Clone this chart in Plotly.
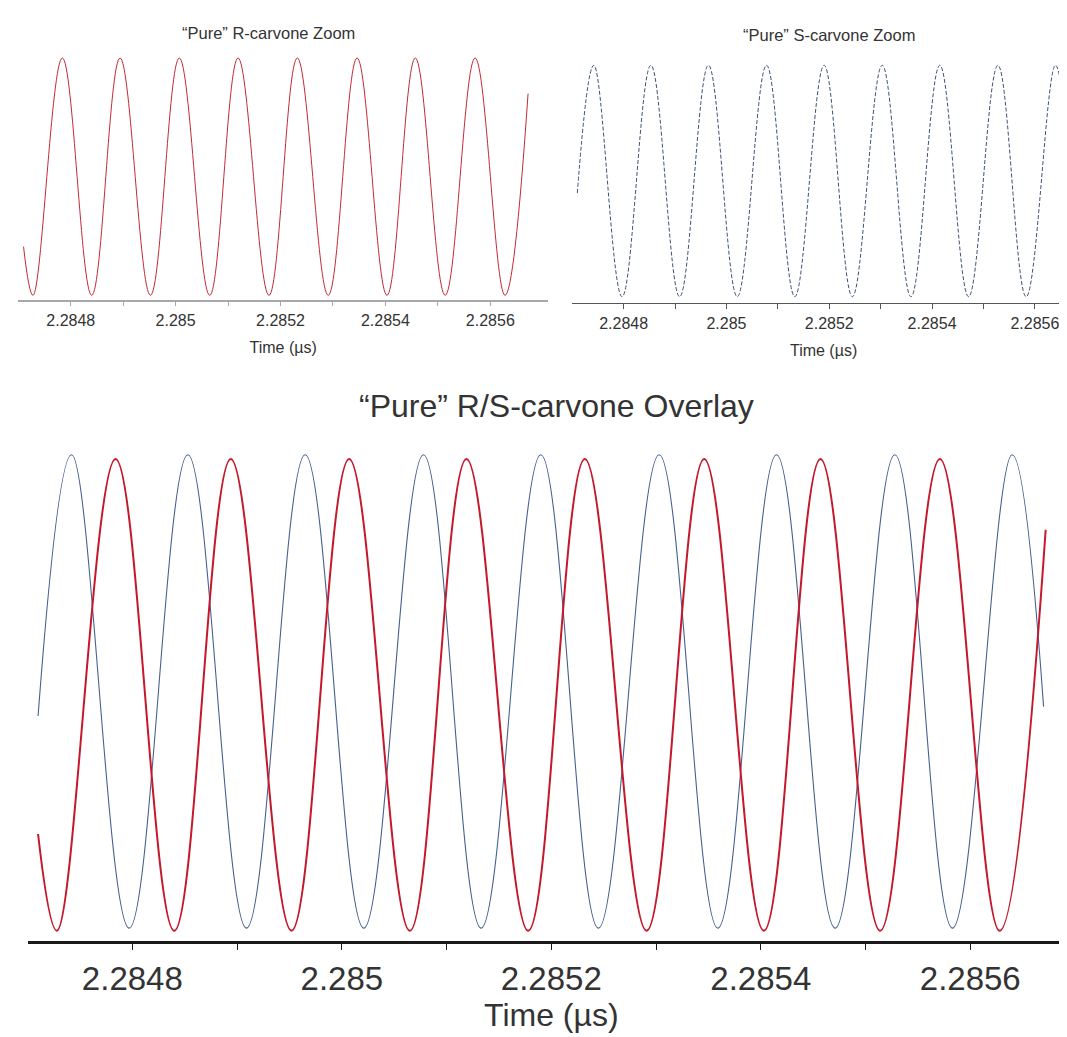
import plotly.graph_objects as go

# ---- data (time in µs, signal in arbitrary units) ----
r_start_t, r_start_v = 2.284710, -0.59
r_trough_t = [2.284728, 2.284840, 2.284952, 2.285065, 2.285178, 2.285291, 2.285403, 2.285514, 2.285628]
r_trough_v = [-1.0, -1.0, -1.0, -1.0, -1.0, -1.0, -1.0, -1.0, -1.0]
r_peak_t = [2.284784, 2.284894, 2.285007, 2.285119, 2.285232, 2.285346, 2.285457, 2.285571]
r_peak_v = [1.0, 1.0, 1.0, 1.0, 1.0, 1.0, 1.0, 1.0]
r_end_t, r_end_v = 2.285672, 0.70

s_start_t, s_start_v = 2.284710, -0.09
s_peak_t = [2.284742, 2.284853, 2.284965, 2.285078, 2.285190, 2.285303, 2.285415, 2.285528, 2.285640]
s_peak_v = [1.018, 1.018, 1.018, 1.018, 1.018, 1.018, 1.018, 1.018, 1.018]
s_trough_t = [2.284797, 2.284909, 2.285021, 2.285133, 2.285245, 2.285359, 2.285471, 2.285583]
s_trough_v = [-0.989, -0.989, -0.989, -0.989, -0.989, -0.989, -0.989, -0.989]
s_end_t, s_end_v = 2.285670, -0.05

tick_vals = [2.2848, 2.2850, 2.2852, 2.2854, 2.2856]
tick_text = ["2.2848", "2.285", "2.2852", "2.2854", "2.2856"]
minor_vals = [2.2849, 2.2851, 2.2853, 2.2855]

# ---- build the extrema sequences in time order ----
def merge(st, sv, a_t, a_v, b_t, b_v, et, ev):
    pts = [(st, sv)] + list(zip(a_t, a_v)) + list(zip(b_t, b_v)) + [(et, ev)]
    pts.sort(key=lambda p: p[0])
    return [p[0] for p in pts], [p[1] for p in pts]

r_t, r_v = merge(r_start_t, r_start_v, r_trough_t, r_trough_v, r_peak_t, r_peak_v, r_end_t, r_end_v)
s_t, s_v = merge(s_start_t, s_start_v, s_peak_t, s_peak_v, s_trough_t, s_trough_v, s_end_t, s_end_v)

RED = "#c4182c"
BLUE = "#45618f"
FONT = "Liberation Sans, Arial, sans-serif"
SM = 1.09

fig = go.Figure()
fig.add_trace(go.Scatter(x=r_t, y=r_v, mode="lines", xaxis="x", yaxis="y",
                         line=dict(color="#c42a36", width=1, shape="spline", smoothing=SM)))
fig.add_trace(go.Scatter(x=s_t, y=s_v, mode="lines", xaxis="x2", yaxis="y2",
                         line=dict(color="#3e5275", width=1, shape="spline", smoothing=SM, dash="4px,2px")))
fig.add_trace(go.Scatter(x=s_t, y=s_v, mode="lines", xaxis="x3", yaxis="y3",
                         line=dict(color=BLUE, width=1.1, shape="spline", smoothing=SM)))
fig.add_trace(go.Scatter(x=r_t, y=r_v, mode="lines", xaxis="x3", yaxis="y3",
                         line=dict(color=RED, width=2, shape="spline", smoothing=SM)))

W, H = 1067, 1037

def xax(dom, rng, lc, lw, fs, tfs, tl, anchor, standoff):
    return dict(domain=dom, range=rng, anchor=anchor, showgrid=False, zeroline=False,
                showline=True, linecolor=lc, linewidth=lw,
                tickmode="array", tickvals=tick_vals, ticktext=tick_text,
                ticks="outside", ticklen=tl, tickwidth=1, tickcolor=lc,
                minor=dict(tickmode="array", tickvals=minor_vals, ticks="outside",
                           ticklen=tl, tickwidth=1, tickcolor=lc),
                tickfont=dict(family=FONT, size=fs, color="#333333"),
                title=dict(text="Time (µs)", font=dict(family=FONT, size=tfs, color="#333333"),
                           standoff=standoff))

def yax(dom, rng, anchor):
    return dict(domain=dom, range=rng, anchor=anchor, visible=False, fixedrange=True)

fig.update_layout(
    width=W, height=H, margin=dict(l=0, r=0, t=0, b=0),
    paper_bgcolor="white", plot_bgcolor="white", showlegend=False,
    xaxis=xax([10.3 / W, 540 / W], [2.2847, 2.28571], "#a8a8a8", 1.5, 16, 16, 5, "y", 14),
    yaxis=yax([1 - 291.7 / H, 1 - 40 / H], [-1.0371, 1.0843], "x"),
    xaxis2=xax([564.2 / W, 1.0], [2.2847, 2.285678], "#555555", 1, 16, 16, 5, "y2", 14),
    yaxis2=yax([1 - 295.3 / H, 1 - 40 / H], [-1.0462, 1.168], "x2"),
    xaxis3=xax([19.6 / W, 1.0], [2.2847, 2.2857], "#1a1a1a", 2.5, 33, 32, 7, "y3", 7),
    yaxis3=yax([1 - 932.7 / H, 1 - 440 / H], [-1.0424, 1.0466], "x3"),
    annotations=[
        dict(text="“Pure” R-carvone Zoom", x=260 / W, y=1 - 25 / H, xref="paper", yref="paper",
             showarrow=False, xanchor="center", yanchor="middle",
             font=dict(family=FONT, size=16.5, color="#333333")),
        dict(text="“Pure” S-carvone Zoom", x=821 / W, y=1 - 27 / H, xref="paper", yref="paper",
             showarrow=False, xanchor="center", yanchor="middle",
             font=dict(family=FONT, size=16.5, color="#333333")),
        dict(text="“Pure” R/S-carvone Overlay", x=548 / W, y=1 - 398 / H, xref="paper", yref="paper",
             showarrow=False, xanchor="center", yanchor="middle",
             font=dict(family=FONT, size=32, color="#333333")),
    ],
)

fig.write_html("out.html")
